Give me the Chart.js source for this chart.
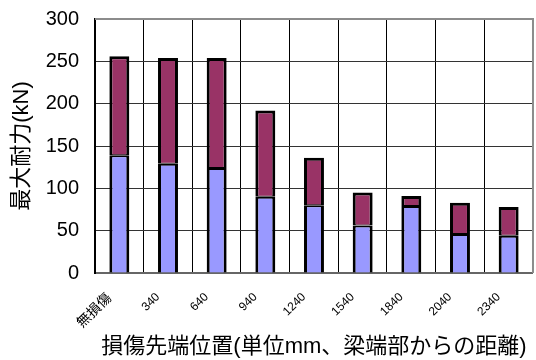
<!DOCTYPE html>
<html>
<head>
<meta charset="utf-8">
<script src="https://cdn.jsdelivr.net/npm/chart.js@4/dist/chart.umd.min.js"></script>
<style>
  html, body { margin: 0; padding: 0; background: #fff; }
  #wrap { width: 536px; height: 360px; position: relative; }
</style>
</head>
<body>
<div id="wrap"><canvas id="c" width="536" height="360"></canvas></div>
<script>
// Damage tip position (mm from beam end) and maximum strength (kN)
const categories = ['無損傷', '340', '640', '940', '1240', '1540', '1840', '2040', '2340'];
const lowerPart = [139, 129, 124, 90, 80, 56, 79, 46, 44];
const upperPart = [117, 125, 130, 102, 56, 39, 12, 37, 34];
const yTicks = [0, 50, 100, 150, 200, 250, 300];

const FONT = '"Liberation Sans", "Noto Sans CJK JP", sans-serif';

// Grey frame on the top and right sides of the plot area
const frame = {
  id: 'frame',
  afterDraw(chart) {
    const { ctx, chartArea: a } = chart;
    ctx.save();
    ctx.strokeStyle = '#8c8c8c';
    ctx.lineWidth = 2;
    ctx.beginPath();
    ctx.moveTo(a.left, a.top);
    ctx.lineTo(a.right, a.top);
    ctx.lineTo(a.right, a.bottom);
    ctx.stroke();
    ctx.restore();
  }
};

new Chart(document.getElementById('c'), {
  type: 'bar',
  data: {
    labels: categories,
    datasets: [
      {
        data: lowerPart,
        backgroundColor: '#9999ff',
        borderColor: '#000',
        borderWidth: { top: 2, left: 3, right: 3, bottom: 0 },
        borderSkipped: false,
        barPercentage: 0.82,
        categoryPercentage: 0.5
      },
      {
        data: upperPart,
        backgroundColor: '#993366',
        borderColor: '#000',
        borderWidth: { top: 3, left: 3, right: 3, bottom: 1 },
        borderSkipped: false,
        barPercentage: 0.82,
        categoryPercentage: 0.5
      }
    ]
  },
  options: {
    responsive: false,
    animation: false,
    layout: { padding: { top: 19, right: 3, left: 0, bottom: 0 } },
    plugins: { legend: { display: false }, tooltip: { enabled: false } },
    scales: {
      x: {
        stacked: true,
        grid: { color: '#000', lineWidth: 1, drawTicks: false, offset: true },
        border: { color: '#666', width: 2 },
        ticks: {
          // the kanji label reads a little larger than the numeric ones
          font: (c) => ({ family: FONT, size: c.index === 0 ? 14 : 12 }),
          color: '#000',
          minRotation: 45,
          maxRotation: 45,
          padding: 17,
          labelOffset: -10
        },
        title: {
          display: true,
          text: '損傷先端位置(単位mm、梁端部からの距離)',
          font: { family: FONT, size: 22 },
          color: '#000',
          padding: { top: 0, bottom: 0 }
        },
        afterFit(s) { s.height = 87; }
      },
      y: {
        stacked: true,
        min: 0,
        max: 300,
        afterBuildTicks(s) { s.ticks = yTicks.map(v => ({ value: v })); },
        grid: { color: '#333', lineWidth: 1, drawTicks: true, tickLength: 12, tickColor: 'rgba(0,0,0,0)' },
        border: { color: '#000', width: 2 },
        ticks: {
          font: { family: FONT, size: 20 },
          color: '#000',
          padding: 4
        },
        title: {
          display: true,
          text: '最大耐力(kN)',
          font: { family: FONT, size: 22 },
          color: '#000',
          padding: { top: 9, bottom: 0 }
        },
        afterFit(s) { s.width = 95; }
      }
    }
  },
  plugins: [frame]
});
</script>
</body>
</html>
